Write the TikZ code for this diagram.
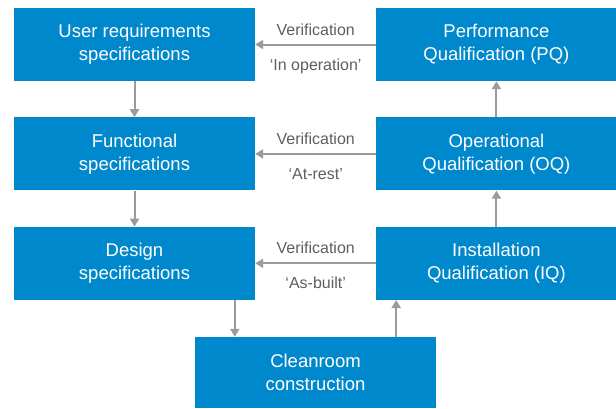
\documentclass[tikz,border=0pt]{standalone}
\usepackage{fontspec}
\setmainfont{Liberation Sans}
\usepackage{xcolor}
\definecolor{boxblue}{HTML}{0088CC}
\definecolor{arrowgray}{HTML}{9B9B9B}
\definecolor{labelgray}{HTML}{5E5E5E}
\usepackage{tikz}
\usetikzlibrary{shapes,arrows,arrows.meta}
\usetikzlibrary{positioning}
\tikzstyle{block} = [rectangle, fill=boxblue, text=white, align=center,
    minimum width=241bp, minimum height=73bp, inner sep=0pt,
    font=\fontsize{18.5bp}{23bp}\selectfont]
\tikzstyle{line} = [draw=arrowgray, line width=2bp, -{Triangle[length=8bp,width=9bp]}]
\tikzstyle{vlabel} = [text=labelgray, anchor=base, inner sep=0pt,
    font=\fontsize{16bp}{19bp}\selectfont]

\begin{document}
\begin{tikzpicture}[x=1bp,y=-1bp,node distance=36bp and 121bp]
    \useasboundingbox (0,0) rectangle (616,408);
    % Place nodes
    \node [block] (urs) at (134.5,44.5) {User requirements\\specifications};
    \node [block, below=of urs] (fs) {Functional\\specifications};
    \node [block, below=of fs] (ds) {Design\\specifications};
    \node [block, minimum width=240bp, right=of urs] (pq) {Performance\\Qualification (PQ)};
    \node [block, minimum width=240bp, right=of fs] (oq) {Operational\\Qualification (OQ)};
    \node [block, minimum width=240bp, right=of ds] (iq) {Installation\\Qualification (IQ)};
    \node [block, minimum height=71bp] (cc) at (315.5,372.5) {Cleanroom\\construction};

    % Draw edges
    \path [line] (urs) -- (fs);
    \path [line] (fs) -- (ds);
    \path [line] (ds.south -| cc.west) ++(40,0) coordinate (d1) -- (d1 |- cc.north);
    \path [line] (cc.north -| iq.west) ++(20,0) coordinate (c1) -- (c1 |- iq.south);
    \path [line] (iq) -- (oq);
    \path [line] (oq) -- (pq);
    \path [line] (pq) -- node [vlabel, yshift=9.5bp] {Verification}
        node [vlabel, yshift=-25.5bp] {‘In operation’} (urs);
    \path [line] (oq) -- node [vlabel, yshift=9.5bp] {Verification}
        node [vlabel, yshift=-25.5bp] {‘At-rest’} (fs);
    \path [line] (iq) -- node [vlabel, yshift=9.5bp] {Verification}
        node [vlabel, yshift=-25.5bp] {‘As-built’} (ds);
\end{tikzpicture}
\end{document}
